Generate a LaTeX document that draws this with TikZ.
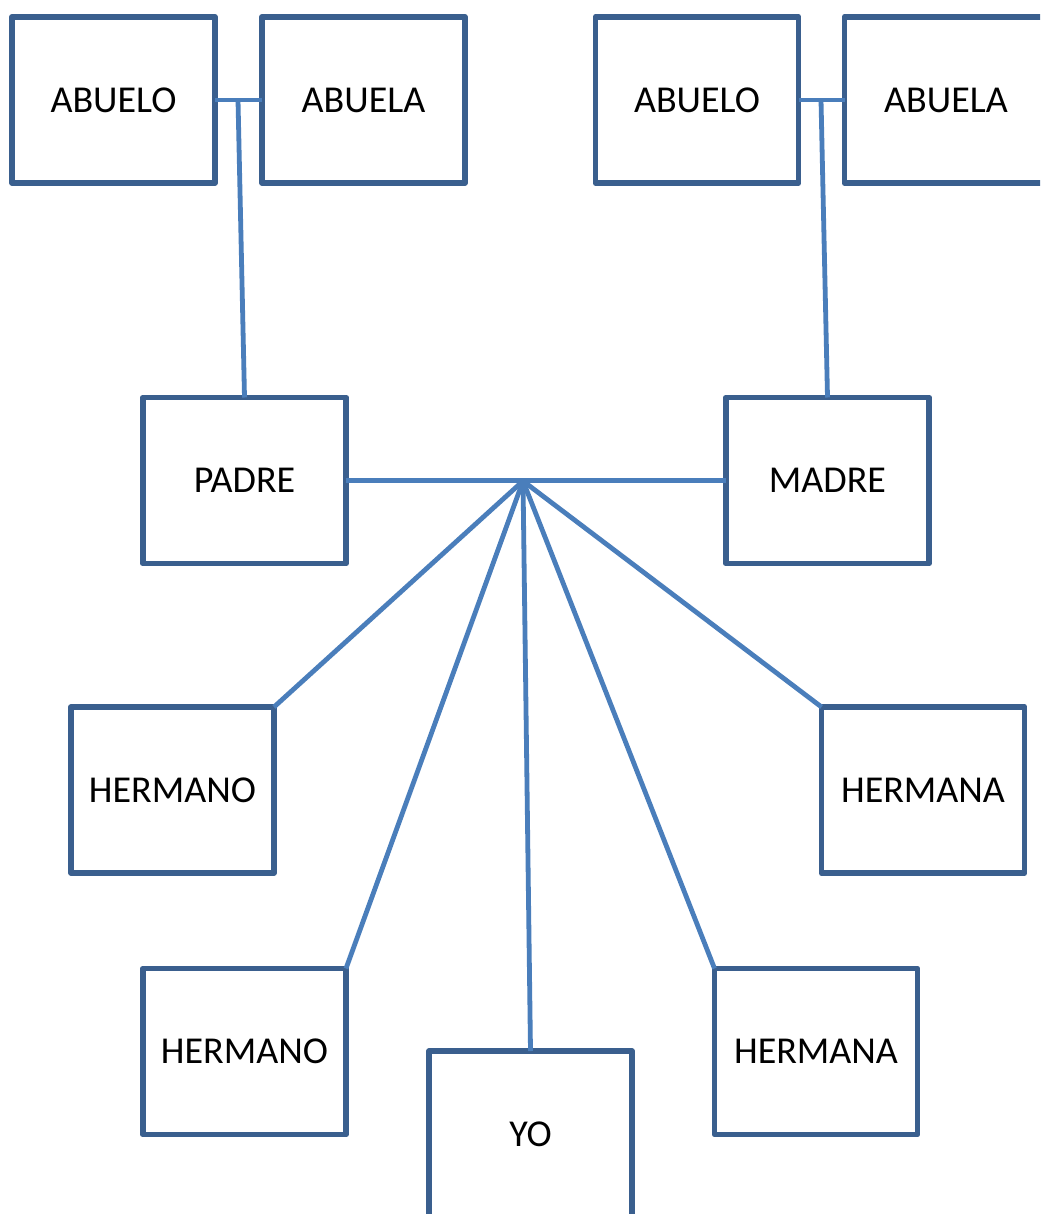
\documentclass[tikz,border=0pt]{standalone}
\usepackage{fontspec}
\setmainfont{Carlito}
\definecolor{boxblue}{HTML}{3A5F8E}
\definecolor{lineblue}{HTML}{4A7EBB}
\tikzset{
  persona/.style={draw=boxblue,line width=2.9pt,line join=round,fill=white,
    minimum width=101.5pt,minimum height=83pt,inner sep=0pt,outer sep=0pt,
    font=\fontsize{19}{21}\selectfont},
  lazo/.style={lineblue,line width=2.4pt}
}
\begin{document}
\begin{tikzpicture}[x=0.5pt,y=-0.5pt]
    \useasboundingbox (0,0) rectangle (1040,1214);
    \clip (0,0) rectangle (1040,1214);
    \fill[white] (0,0) rectangle (1040,1214);
    % abuelos
    \node[persona] (abuelo1) at (113.5,100) {ABUELO};
    \node[persona] (abuela1) at (363.5,100) {ABUELA};
    \node[persona] (abuelo2) at (697,100) {ABUELO};
    \node[persona] (abuela2) at (946,100) {ABUELA};
    % padres
    \node[persona] (padre) at (244.5,480.5) {PADRE};
    \node[persona] (madre) at (827.5,480.5) {MADRE};
    % hijos
    \node[persona] (hermano1) at (172.5,790) {HERMANO};
    \node[persona] (hermana1) at (923,790) {HERMANA};
    \node[persona] (hermano2) at (244.5,1051.5) {HERMANO};
    \node[persona] (hermana2) at (816,1051.5) {HERMANA};
    \node[persona] (yo) at (530.5,1134) {YO};
    \coordinate (union1) at (238,100);
    \coordinate (union2) at (821,100);
    \coordinate (centro) at (523,481);
    \draw[lazo] (abuelo1.east) -- (abuela1.west);
    \draw[lazo] (union1) -- (padre.north);
    \draw[lazo] (abuelo2.east) -- (abuela2.west);
    \draw[lazo] (union2) -- (madre.north);
    \draw[lazo] (padre.east) -- (madre.west);
    \draw[lazo] (centro) -- (hermano1.north east);
    \draw[lazo] (centro) -- (hermano2.north east);
    \draw[lazo] (centro) -- (yo.north);
    \draw[lazo] (centro) -- (hermana2.north west);
    \draw[lazo] (centro) -- (hermana1.north west);
\end{tikzpicture}
\end{document}
